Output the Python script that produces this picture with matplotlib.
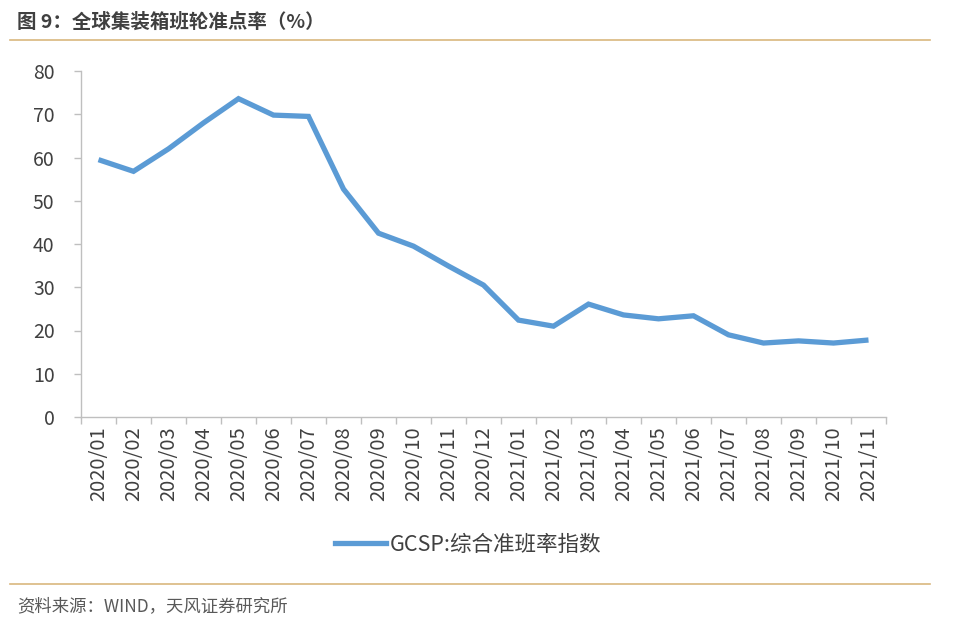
import matplotlib
matplotlib.use("Agg")
import matplotlib.pyplot as plt
from matplotlib.lines import Line2D

plt.rcParams['font.family'] = ['Noto Sans CJK SC', 'DejaVu Sans']

months = ["2020/01", "2020/02", "2020/03", "2020/04", "2020/05", "2020/06", "2020/07", "2020/08",
          "2020/09", "2020/10", "2020/11", "2020/12", "2021/01", "2021/02", "2021/03", "2021/04",
          "2021/05", "2021/06", "2021/07", "2021/08", "2021/09", "2021/10", "2021/11"]
gcsp = [59.5, 56.8, 62.0, 68.0, 73.6, 69.8, 69.5, 52.7, 42.5, 39.5, 34.9, 30.5, 22.4, 21.0,
        26.1, 23.6, 22.7, 23.4, 19.0, 17.1, 17.6, 17.1, 17.8]
yticks = [0, 10, 20, 30, 40, 50, 60, 70, 80]

fig = plt.figure(figsize=(9.6, 6.31), dpi=100)
ax = fig.add_axes([81/960, 1-417/631, (886-81)/960, (417-71)/631])

blue = "#5B9BD5"
x = list(range(len(months)))
ax.plot(x, gcsp, color=blue, lw=3.8, solid_joinstyle='miter', solid_capstyle='butt')

ax.set_xlim(-0.5, len(months) - 0.5)
ax.set_ylim(0, 80)
ax.set_yticks(yticks)
ax.set_yticklabels([str(v) for v in yticks], fontsize=14, color="#404040")
ax.set_xticks(x)
ax.set_xticklabels(months, rotation=90, fontsize=14.5, color="#404040")
ax.tick_params(axis='x', which='major', length=0, pad=7)
ax.set_xticks([i - 0.5 for i in range(len(months) + 1)], minor=True)
ax.tick_params(axis='x', which='minor', length=5, color="#BFBFBF", width=1)
ax.tick_params(axis='y', length=5, color="#BFBFBF", width=1, pad=14)

for s in ['top', 'right']:
    ax.spines[s].set_visible(False)
for s in ['left', 'bottom']:
    ax.spines[s].set_color("#BFBFBF")
    ax.spines[s].set_linewidth(1)

# legend
leg_handle = Line2D([0], [0], color=blue, lw=3.8)
fig.legend([leg_handle], ["GCSP:综合准班率指数"], loc='center', bbox_to_anchor=(468/960, 1-545/631),
           frameon=False, fontsize=15.5, handlelength=2.4, handletextpad=0.15, labelcolor="#404040")

# title and footer
fig.text(17/960, 1-22/631, "图 9：全球集装箱班轮准点率（%）", fontsize=14, fontweight='bold',
         color="#404040", va='center', ha='left')
fig.add_artist(Line2D([10/960, 930/960], [1-40/631, 1-40/631], color="#D9B77E", lw=1.2))
fig.add_artist(Line2D([10/960, 930/960], [1-584/631, 1-584/631], color="#D9B77E", lw=1.2))
fig.text(17/960, 1-606/631, "资料来源：WIND，天风证券研究所", fontsize=12.5, color="#595959",
         va='center', ha='left')

fig.savefig("out.png", dpi=100)
